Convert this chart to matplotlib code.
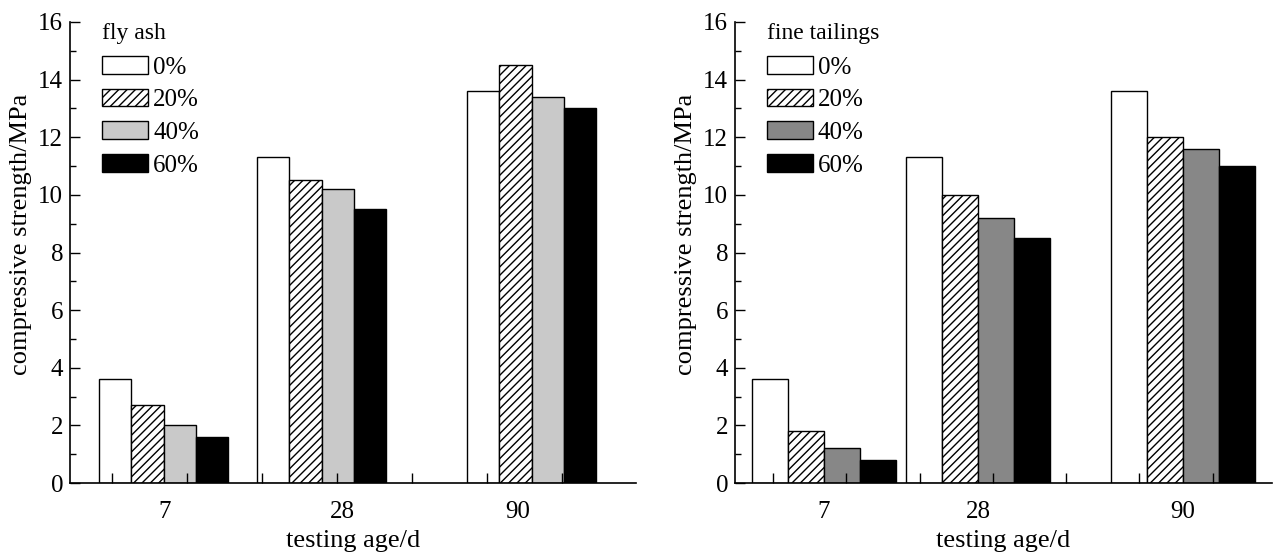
# Compressive strength vs testing age, two admixtures side by side
import numpy as np
import matplotlib
matplotlib.use('Agg')
import matplotlib.pyplot as plt
from matplotlib.ticker import MultipleLocator

plt.rcParams['font.family'] = ['Liberation Serif', 'DejaVu Serif']
plt.rcParams['hatch.linewidth'] = 1.0

# Data
ages = ['7', '28', '90']
dosages = ['0%', '20%', '40%', '60%']

fly_ash = {
    '0%':  [3.6, 11.3, 13.6],
    '20%': [2.7, 10.5, 14.5],
    '40%': [2.0, 10.2, 13.4],
    '60%': [1.6, 9.5, 13.0],
}
fine_tailings = {
    '0%':  [3.6, 11.3, 13.6],
    '20%': [1.8, 10.0, 12.0],
    '40%': [1.2, 9.2, 11.6],
    '60%': [0.8, 8.5, 11.0],
}

# Styles
hatches = ['', '////', '', '']
W, H, DPI = 1274, 555, 100
AX_TOP, AX_BOT = 22, 483  # pixel rows of y=16 and y=0

fig = plt.figure(figsize=(W / DPI, H / DPI), dpi=DPI)


def draw_panel(left_px, width_px, data, title, gray, group_left, bar_w, label_x, tick0, tick_step):
    rect = [left_px / W, (H - AX_BOT) / H, width_px / W, (AX_BOT - AX_TOP) / H]
    ax = fig.add_axes(rect)
    ah = AX_BOT - AX_TOP
    fills = ['white', 'white', gray, 'black']
    handles = []
    for k, d in enumerate(dosages):
        x = np.array(group_left) + k * bar_w
        b = ax.bar(x, data[d], width=bar_w, align='edge', color=fills[k],
                   edgecolor='black', linewidth=1.0, hatch=hatches[k], label=d)
        handles.append(b)

    ax.set_xlim(0, width_px)
    ax.set_ylim(0, 16)
    ax.yaxis.set_major_locator(MultipleLocator(2))
    ax.yaxis.set_minor_locator(MultipleLocator(1))
    ax.tick_params(axis='y', which='major', direction='in', length=7, width=1.0,
                   labelsize=18, pad=5)
    ax.tick_params(axis='y', which='minor', direction='in', length=4, width=1.0)

    ax.set_xticks(label_x, ages)
    ax.set_xticks(np.arange(tick0, width_px, tick_step), minor=True)
    ax.tick_params(axis='x', which='major', length=0, labelsize=18, pad=13)
    ax.tick_params(axis='x', which='minor', direction='in', length=7, width=1.0)

    for s in ['top', 'right']:
        ax.spines[s].set_visible(False)
    for s in ['left', 'bottom']:
        ax.spines[s].set_linewidth(1.2)

    ax.set_ylabel('compressive strength/MPa', fontsize=19)
    ax.yaxis.set_label_coords(-38 / width_px, 1 - (234 - AX_TOP) / ah)
    ax.set_xlabel('testing age/d', fontsize=19, labelpad=5)

    # legend title as plain text, entries below it
    ax.text(32 / width_px, 1 - 11 / ah, title, transform=ax.transAxes,
            fontsize=17, ha='left', va='center')
    ax.legend(handles=handles, loc='upper left',
              bbox_to_anchor=(32 / width_px, 1 - 34 / ah), frameon=False,
              fontsize=18, handlelength=1.84, handleheight=0.72, handletextpad=0.2,
              labelspacing=0.40, borderpad=0, borderaxespad=0)
    return ax


draw_panel(70, 566, fly_ash, 'fly ash', '#c9c9c9',
           [29, 187, 397], 32.3, [95, 272, 448], 42, 75)
draw_panel(735, 537, fine_tailings, 'fine tailings', '#878787',
           [17, 171, 376], 36, [89, 243, 448], 38, 73.3)

fig.savefig('out.png', dpi=DPI)
